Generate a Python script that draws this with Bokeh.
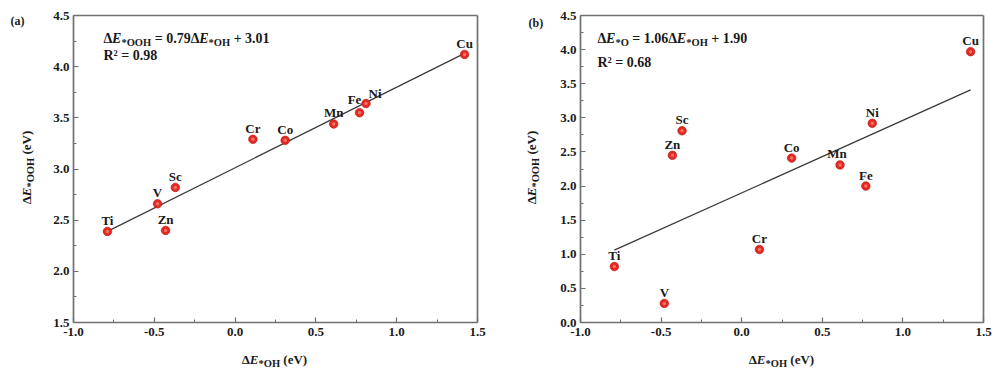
import math
from bokeh.plotting import figure
from bokeh.models import (Label, SingleIntervalTicker, FixedTicker, NumeralTickFormatter, Range1d,
                          ColumnDataSource, LinearAxis)
from bokeh.layouts import row
from bokeh.embed import file_html
from bokeh.resources import INLINE

# ---------------- data ----------------
elements = ["Ti", "V", "Sc", "Zn", "Cr", "Co", "Mn", "Fe", "Ni", "Cu"]
dE_OH_a = [-0.79, -0.48, -0.37, -0.43, 0.11, 0.31, 0.61, 0.77, 0.81, 1.42]
dE_OOH = [2.39, 2.66, 2.82, 2.40, 3.29, 3.28, 3.44, 3.55, 3.64, 4.12]
dE_OH_b = [-0.79, -0.48, -0.37, -0.43, 0.11, 0.31, 0.61, 0.77, 0.81, 1.42]
dE_O = [0.82, 0.28, 2.81, 2.45, 1.07, 2.41, 2.31, 2.00, 2.92, 3.97]
fit_x = [-0.79, 1.42]
fit_a = [2.39, 4.13]
fit_b = [1.06, 3.41]
x_lim = (-1.0, 1.5)
y_lim_a = (1.5, 4.5)
y_lim_b = (0.0, 4.5)
NB = "\u00a0"
eq_a = [("Δ", "n"), ("E", "i"), ("*OOH", "s"), (NB + "=" + NB + "0.79Δ", "n"), ("E", "i"), ("*OH", "s"), (NB + "+" + NB + "3.01", "n")]
eq_b = [("Δ", "n"), ("E", "i"), ("*O", "s"), (NB + "=" + NB + "1.06Δ", "n"), ("E", "i"), ("*OH", "s"), (NB + "+" + NB + "1.90", "n")]
r2_a = "R² = 0.98"
r2_b = "R² = 0.68"
xlab = [("Δ", "n"), ("E", "i"), ("*OH", "s"), (NB + "(eV)", "n")]
ylab_a = [("Δ", "n"), ("E", "i"), ("*OOH", "s"), (NB + "(eV)", "n")]
ylab_b = [("Δ", "n"), ("E", "i"), ("*OOH", "s"), (NB + "(eV)", "n")]

# ---------------- style / layout ----------------
FONT = "Liberation Serif"
TXT = "#1a1a1a"
AX = "#707070"
H = 378
W = {' ': 250, NB: 250, '=': 570, '+': 570, '.': 250, 'Δ': 612, 'E': 667, '*': 500, 'O': 778,
     'H': 778, '(': 333, ')': 333, 'e': 444, 'V': 722, 'R': 722, '²': 300}


def tw(s, size):
    return sum(W.get(c, 500) for c in s) * size / 1000.0


class PixMap:
    """maps pixel positions of the page to data coordinates of one panel"""
    def __init__(self, fx0, fx1, fy0, fy1, xl, yl, page_x0, width):
        self.fx0, self.fx1, self.fy0, self.fy1 = fx0, fx1, fy0, fy1
        self.xl, self.yl = xl, yl
        self.px0, self.w = page_x0, width

    def X(self, px):
        return self.xl[0] + (px - self.fx0) * (self.xl[1] - self.xl[0]) / (self.fx1 - self.fx0)

    def Y(self, py):
        return self.yl[1] - (py - self.fy0) * (self.yl[1] - self.yl[0]) / (self.fy1 - self.fy0)


def rich(p, x, y, pieces, size=14, sub=10.5, shift=4, angle=0.0, center=False):
    widths = [tw(t, sub if k == "s" else size) for t, k in pieces]
    pos = -sum(widths) / 2 if center else 0.0
    for (t, k), w in zip(pieces, widths):
        fs = sub if k == "s" else size
        style = "bold italic" if k == "i" else "bold"
        d = -shift if k == "s" else 0
        if angle == 0:
            xo, yo = pos, d
        else:
            xo, yo = -d, pos
        p.add_layout(Label(x=x, y=y, x_offset=xo, y_offset=yo, text=t, angle=angle,
                           text_font=FONT, text_font_size=f"{fs}px", text_font_style=style,
                           text_color=TXT, text_align="left", text_baseline="alphabetic"))
        pos += w


def style_axis(ax, standoff=4):
    ax.axis_line_color = AX
    ax.axis_line_width = 1.7
    ax.major_tick_line_color = AX
    ax.minor_tick_line_color = AX
    ax.major_tick_line_width = 1.2
    ax.minor_tick_line_width = 1.0
    ax.major_tick_in = 5
    ax.major_tick_out = 0
    ax.minor_tick_in = 3
    ax.minor_tick_out = 0
    ax.major_label_text_font = FONT
    ax.major_label_text_font_style = "bold"
    ax.major_label_text_font_size = "13px"
    ax.major_label_text_color = TXT
    ax.major_label_standoff = standoff


def make_fig(m, yl):
    x0 = m.X(m.px0)
    x1 = m.X(m.px0 + m.w)
    y1 = m.Y(0)
    y0 = m.Y(H)
    p = figure(width=m.w, height=H, x_range=Range1d(x0, x1), y_range=Range1d(y0, y1),
               output_backend="svg", toolbar_location=None, min_border=0)
    p.title.visible = False
    p.grid.visible = False
    p.outline_line_color = None
    p.background_fill_color = "white"
    xa, ya = p.xaxis[0], p.yaxis[0]
    xa.fixed_location = yl[0]
    xa.bounds = x_lim
    xa.ticker = SingleIntervalTicker(interval=0.5, num_minor_ticks=2)
    xa.formatter = NumeralTickFormatter(format="0.0")
    style_axis(xa, standoff=5)
    ya.fixed_location = x_lim[0]
    ya.bounds = yl
    ya.ticker = SingleIntervalTicker(interval=0.5, num_minor_ticks=2)
    ya.formatter = NumeralTickFormatter(format="0.0")
    style_axis(ya, standoff=4)
    top = LinearAxis(fixed_location=yl[1], bounds=x_lim, ticker=FixedTicker(ticks=[]))
    right = LinearAxis(fixed_location=x_lim[1], bounds=yl, ticker=FixedTicker(ticks=[]))
    for ax in (top, right):
        style_axis(ax)
        ax.major_tick_in = 0
        ax.minor_tick_in = 0
    p.add_layout(top, "above")
    p.add_layout(right, "right")
    return p


def points(p, xs, ys, offsets):
    src = ColumnDataSource(dict(x=xs, y=ys))
    p.scatter("x", "y", source=src, size=8.5, fill_color="#e22a22", line_color="#c41a14", line_width=0.7)
    p.scatter("x", "y", source=src, size=3.5, fill_color="#ff8c80", fill_alpha=0.7, line_color=None)
    for name, x, y in zip(elements, xs, ys):
        dx, dy = offsets.get(name, (0, 11))
        p.add_layout(Label(x=x, y=y, x_offset=dx, y_offset=dy, text=name, text_font=FONT,
                           text_font_size="13px", text_font_style="bold", text_color=TXT,
                           text_align="center", text_baseline="alphabetic"))


# ---------------- panel (a) ----------------
ma = PixMap(73, 477, 15, 322, x_lim, y_lim_a, 0, 500)
pa = make_fig(ma, y_lim_a)
pa.line(fit_x, fit_a, line_color="#3a3a3a", line_width=1.3)
points(pa, dE_OH_a, dE_OOH, {"Ni": (9, 10), "Fe": (-5, 13)})
rich(pa, ma.X(103), ma.Y(38), eq_a)
pa.add_layout(Label(x=ma.X(103), y=ma.Y(62), text=r2_a, text_font=FONT, text_font_size="14px",
                    text_font_style="bold", text_color=TXT))
pa.add_layout(Label(x=ma.X(10), y=ma.Y(27), text="(a)", text_font=FONT, text_font_size="12px",
                    text_font_style="bold", text_color=TXT))
rich(pa, ma.X(274), ma.Y(359), xlab, size=13, center=True)
rich(pa, ma.X(26), ma.Y(167), ylab_a, size=13, angle=math.pi / 2, center=True)

# ---------------- panel (b) ----------------
mb = PixMap(580, 983, 15, 322, x_lim, y_lim_b, 500, 501)
pb = make_fig(mb, y_lim_b)
pb.line(fit_x, fit_b, line_color="#3a3a3a", line_width=1.3)
points(pb, dE_OH_b, dE_O, {"Mn": (-3, 11)})
rich(pb, mb.X(597), mb.Y(38), eq_b)
pb.add_layout(Label(x=mb.X(597), y=mb.Y(69), text=r2_b, text_font=FONT, text_font_size="14px",
                    text_font_style="bold", text_color=TXT))
pb.add_layout(Label(x=mb.X(528), y=mb.Y(29), text="(b)", text_font=FONT, text_font_size="12px",
                    text_font_style="bold", text_color=TXT))
rich(pb, mb.X(781), mb.Y(359), xlab, size=13, center=True)
rich(pb, mb.X(531), mb.Y(167), ylab_b, size=13, angle=math.pi / 2, center=True)

layout = row(pa, pb)
open("out.html", "w").write(file_html(layout, INLINE))
